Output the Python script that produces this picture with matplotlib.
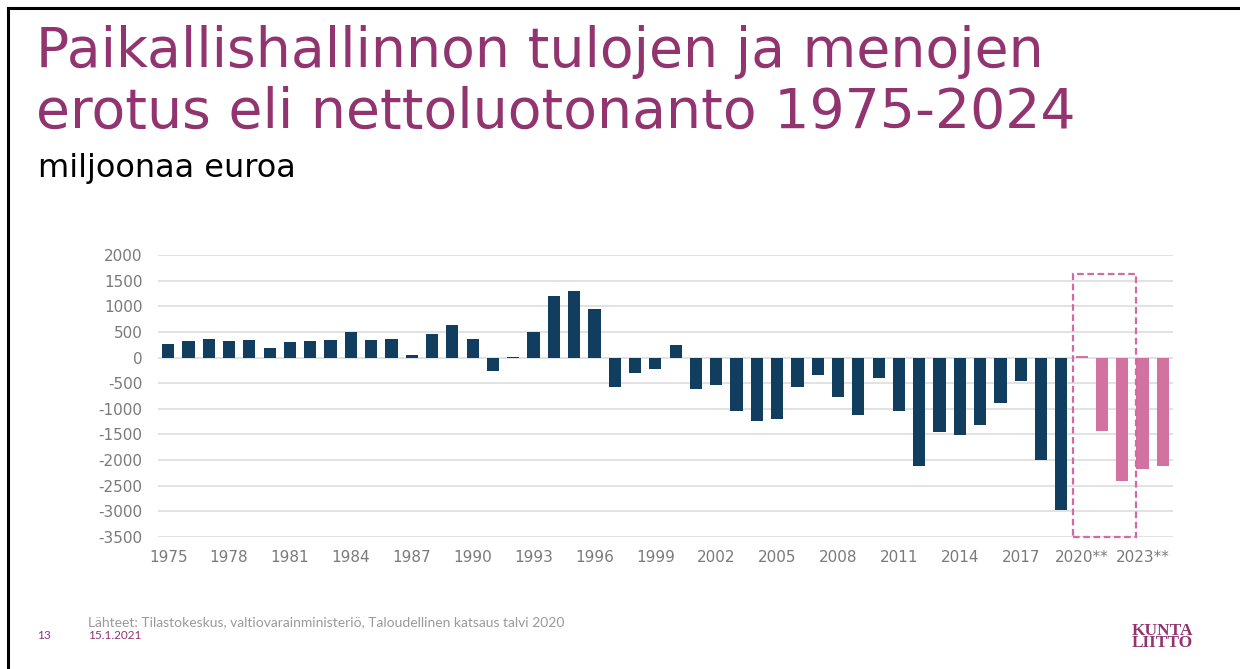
import numpy as np
import matplotlib
matplotlib.use('Agg')
import matplotlib.pyplot as plt
import matplotlib.patches as mpatches

# data (miljoonaa euroa)
years = list(range(1975, 2025))
hist_values = [270, 325, 365, 320, 350, 190, 295, 320, 345, 490,
               345, 360, 50, 450, 630, 360, -265, 15, 505, 1210,
               1305, 955, -580, -300, -215, 245, -620, -545, -1040, -1240,
               -1195, -570, -345, -760, -1130, -390, -1050, -2115, -1450, -1505,
               -1325, -895, -450, -2005, -2965]          # 1975-2019
forecast_values = [30, -1425, -2400, -2170, -2115]      # 2020-2024 (ennuste)
tick_years = years[::3]
tick_labels = [str(y) if y < 2020 else f'{y}**' for y in tick_years]
yticks = list(range(-3500, 2001, 500))

navy = '#113d5e'
pink = '#d172a1'
purple = '#913470'
grey = '#7a7a7a'

plt.rcParams['font.family'] = ['DejaVu Sans']

fig = plt.figure(figsize=(12.4, 6.69), dpi=100)

def px(x, y):
    # pixel position on the slide -> figure fraction
    return x / 1240, 1 - y / 669

# slide frame (top + left edge)
fig.add_artist(plt.Line2D([0.0065, 0.0065], [0, 1 - 8 / 669], color='k', lw=2.2, transform=fig.transFigure))
fig.add_artist(plt.Line2D([0.0065, 1], [1 - 8 / 669, 1 - 8 / 669], color='k', lw=2.2, transform=fig.transFigure))

# titles
fig.text(*px(36, 67), 'Paikallishallinnon tulojen ja menojen', color=purple, fontsize=39.8, va='baseline')
fig.text(*px(36, 128), 'erotus eli nettoluotonanto 1975-2024', color=purple, fontsize=39.8, va='baseline')
fig.text(*px(38, 177), 'miljoonaa euroa', color='black', fontsize=23, va='baseline')

# bar chart
ax = fig.add_axes([158 / 1240, 1 - 537 / 669, 1015 / 1240, 282 / 669])
n_hist = len(hist_values)
x_hist = np.arange(n_hist)
x_fc = np.arange(n_hist, n_hist + len(forecast_values))
ax.bar(x_hist, hist_values, width=0.6, color=navy, zorder=3)
ax.bar(x_fc, forecast_values, width=0.6, color=pink, zorder=3)

ax.set_xlim(-0.5, len(years) - 0.5)
ax.set_ylim(-3500, 2000)
ax.set_yticks(yticks)
ax.set_yticklabels([str(v) for v in yticks])
ax.set_xticks([years.index(y) for y in tick_years])
ax.set_xticklabels(tick_labels)
ax.tick_params(axis='both', length=0, colors=grey, labelsize=11)
ax.tick_params(axis='y', pad=11)
ax.tick_params(axis='x', pad=9)
ax.grid(axis='y', color='#e2e2e2', lw=1.4, zorder=0)
for s in ax.spines.values():
    s.set_visible(False)

# dashed frame around the forecast years
rect = mpatches.Rectangle((44.55, -3500), 3.15, 5120, fill=False, edgecolor='#d46aa3',
                          lw=1.6, linestyle=(0, (3, 1.6)), zorder=4, clip_on=False)
ax.add_patch(rect)

# footer
fig.text(*px(88, 626), 'Lähteet: Tilastokeskus, valtiovarainministeriö, Taloudellinen katsaus talvi 2020',
         color='#9a9a9a', fontsize=10, va='baseline', family=['Lato'])
fig.text(*px(37, 639), '13', color=purple, fontsize=8.5, va='baseline', family=['Lato'])
fig.text(*px(88, 639), '15.1.2021', color=purple, fontsize=8.5, va='baseline', family=['Lato'])
fig.text(*px(1162, 637), 'KUNTA\nLIITTO', color=purple, fontsize=12.5, fontweight='bold',
         family=['Liberation Serif', 'DejaVu Serif'], ha='center', va='center', linespacing=0.7)

plt.savefig('out.png', dpi=100)
plt.close()
